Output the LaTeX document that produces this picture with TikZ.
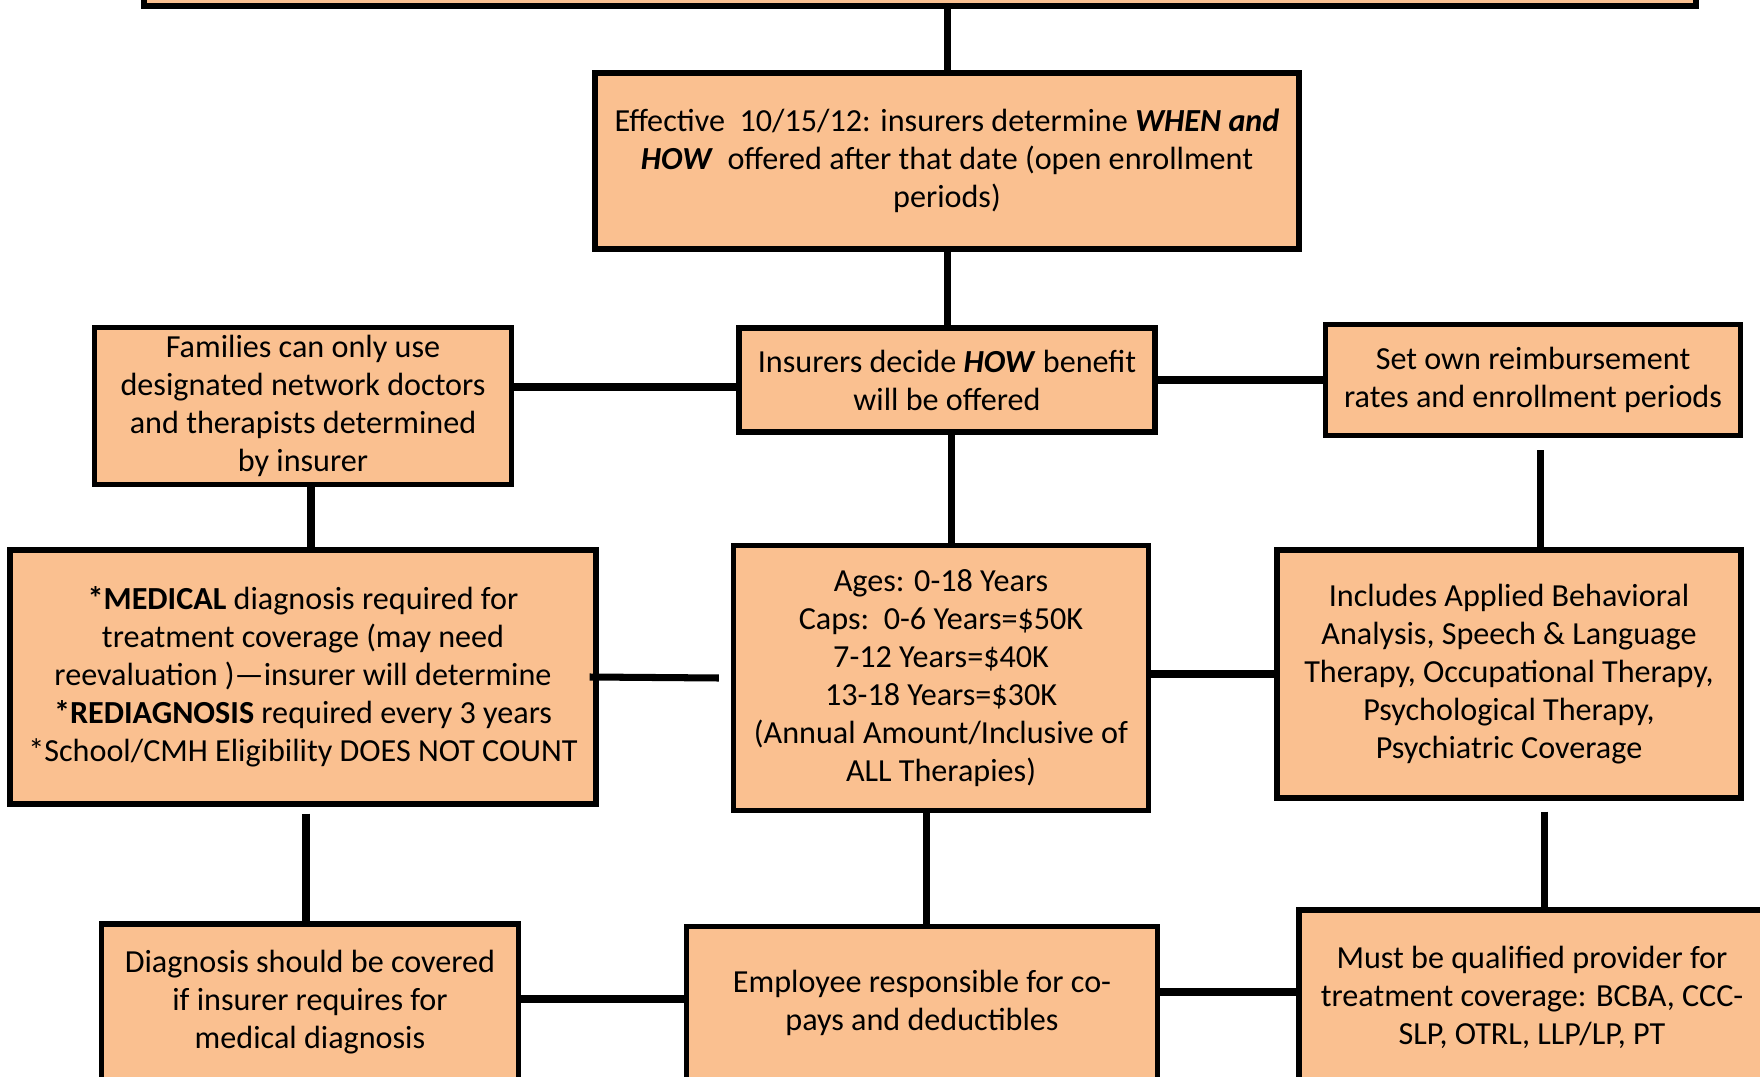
\documentclass[tikz,border=0pt]{standalone}
\usepackage{fontspec}
\setmainfont{Carlito}
\usepackage{xcolor}
\definecolor{boxfill}{HTML}{FAC090}

\begin{document}
\begin{tikzpicture}[x=0.02cm, y=-0.02cm,
		box/.style={draw, line width=3.1pt, fill=boxfill, align=center, inner sep=0pt,
			font=\fontsize{18.3}{21.6}\selectfont},
		link/.style={line width=4pt}]
			\useasboundingbox (0,0) rectangle (1760,1077);
			\clip (0,0) rectangle (1760,1077);
			% top row
			\node[box, minimum width=31.04cm, minimum height=1.04cm] (law) at (920,-20) {};
			\node[box, minimum width=14.08cm, minimum height=3.52cm] (eff) at (947,161)
				{Effective\ \ 10/15/12: insurers determine \textbf{\textit{WHEN and}}\\
				\textbf{\textit{HOW}}\ \ offered after that date (open enrollment\\ periods)};
			% second row
			\node[box, minimum width=8.32cm, minimum height=2.08cm] (how) at (947,380)
				{Insurers decide \textbf{\textit{HOW}} benefit\\ will be offered};
			\node[box, minimum width=8.34cm, minimum height=3.14cm] (fam) at (303,406)
				{Families can only use\\ designated network doctors\\ and therapists determined\\ by insurer};
			\node[box, minimum width=8.3cm, minimum height=2.22cm] (rates) at (1533,380)
				{Set own reimbursement\\ rates and enrollment periods};
			% third row
			\node[box, minimum width=11.72cm, minimum height=5.08cm] (med) at (303,677)
				{\textbf{*MEDICAL} diagnosis required for\\ treatment coverage (may need\\
				reevaluation )—insurer will determine\\ \textbf{*REDIAGNOSIS} required every 3 years\\
				*School/CMH Eligibility DOES NOT COUNT};
			\node[box, minimum width=8.3cm, minimum height=5.3cm] (ages) at (941,678)
				{Ages: 0-18 Years\\ Caps:\ \ 0-6 Years=\$50K\\ 7-12 Years=\$40K\\ 13-18 Years=\$30K\\
				(Annual Amount/Inclusive of\\ ALL Therapies)};
			\node[box, minimum width=9.28cm, minimum height=4.96cm] (incl) at (1509,674)
				{Includes Applied Behavioral\\ Analysis, Speech \& Language\\ Therapy, Occupational Therapy,\\
				Psychological Therapy,\\ Psychiatric Coverage};
			% bottom row
			\node[box, minimum width=8.34cm, minimum height=3.12cm] (diag) at (310,1002)
				{Diagnosis should be covered\\ if insurer requires for\\ medical diagnosis};
			\node[box, minimum width=9.42cm, minimum height=3.06cm] (emp) at (922,1003)
				{Employee responsible for co-\\ pays and deductibles};
			\node[box, minimum width=9.32cm, minimum height=3.48cm] (must) at (1532,997)
				{Must be qualified provider for\\ treatment coverage: BCBA, CCC-\\ SLP, OTRL, LLP/LP, PT};
			% connectors
			\draw[link] (eff.north |- law.south) -- (eff.north);
			\draw[link] (eff.south) -- (how.north);
			\draw[link] (fam.east |- 0,387) -- (how.west |- 0,387);
			\draw[link] (how.east) -- (how.east -| rates.west);
			\draw[link] (311,0 |- fam.south) -- (311,0 |- med.north);
			\draw[link] (951,0 |- how.south) -- (951,0 |- ages.north);
			\draw[link, shorten <=0.24cm] (1540,0 |- rates.south) -- (1540,0 |- incl.north);
			\draw[link] ([xshift=-0.18cm]med.east) -- ([xshift=-0.24cm]ages.west);
			\draw[link] (incl.west -| ages.east) -- (incl.west);
			\draw[link, shorten <=0.14cm] (306,0 |- med.south) -- (306,0 |- diag.north);
			\draw[link] (926,0 |- ages.south) -- (926,0 |- emp.north);
			\draw[link, shorten <=0.22cm] (1544,0 |- incl.south) -- (1544,0 |- must.north);
			\draw[link] (diag.east |- 0,999) -- (emp.west |- 0,999);
			\draw[link] (emp.east |- 0,992) -- (must.west |- 0,992);
		\end{tikzpicture}
\end{document}
